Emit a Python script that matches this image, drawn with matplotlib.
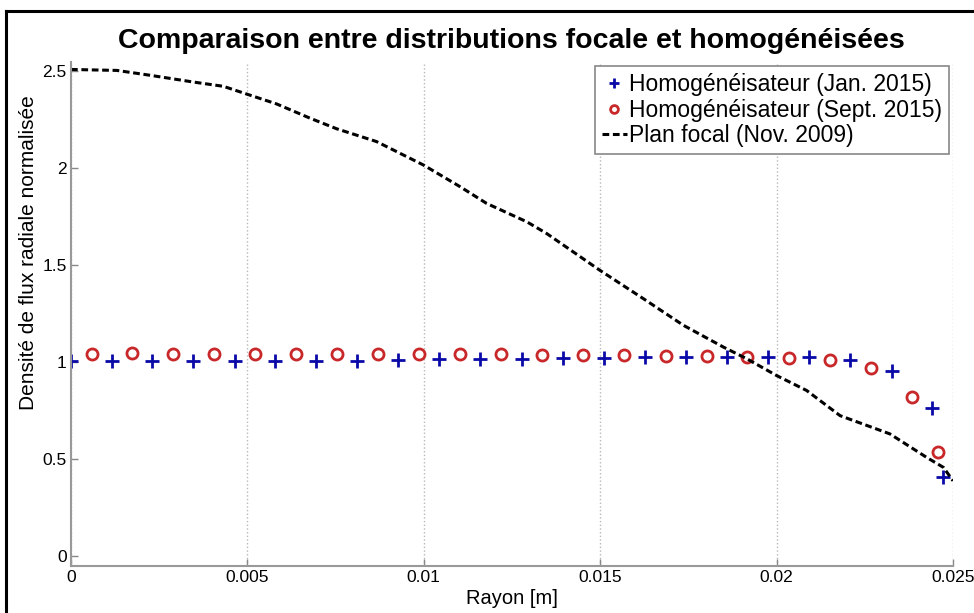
import matplotlib
matplotlib.use("Agg")
import matplotlib.pyplot as plt
from matplotlib.lines import Line2D

plt.rcParams['font.family'] = ['Liberation Sans', 'DejaVu Sans']

# Homogeneisateur (Jan. 2015)
jan_r = [0.0, 0.00116, 0.00230, 0.00346, 0.00465, 0.00578, 0.00694, 0.00811,
         0.00927, 0.01043, 0.01159, 0.01278, 0.01395, 0.01511, 0.01627, 0.01743,
         0.01859, 0.01975, 0.02092, 0.02208, 0.02327, 0.02440, 0.02472]
jan_flux = [1.005, 1.005, 1.008, 1.008, 1.005, 1.005, 1.005, 1.008,
            1.010, 1.015, 1.015, 1.018, 1.020, 1.022, 1.025, 1.026,
            1.026, 1.027, 1.025, 1.012, 0.953, 0.762, 0.410]

# Homogeneisateur (Sept. 2015)
sept_r = [0.00060, 0.00173, 0.00289, 0.00405, 0.00522, 0.00638, 0.00754, 0.00870,
          0.00986, 0.01103, 0.01219, 0.01335, 0.01451, 0.01567, 0.01686, 0.01803,
          0.01916, 0.02035, 0.02151, 0.02268, 0.02384, 0.02457]
sept_flux = [1.040, 1.045, 1.040, 1.040, 1.040, 1.040, 1.040, 1.040,
             1.040, 1.040, 1.040, 1.035, 1.035, 1.035, 1.033, 1.030,
             1.027, 1.022, 1.013, 0.970, 0.820, 0.535]

# Plan focal (Nov. 2009)
focal_r = [0.0, 0.0013, 0.00224, 0.00347, 0.00432, 0.00498, 0.00583, 0.00677,
           0.00753, 0.00866, 0.00999, 0.01103, 0.01178, 0.01292, 0.01348, 0.01499,
           0.01622, 0.01736, 0.01849, 0.01915, 0.02000, 0.02085, 0.02180, 0.02321,
           0.02425, 0.02473, 0.0250]
focal_flux = [2.51, 2.505, 2.48, 2.445, 2.423, 2.383, 2.332, 2.259,
              2.204, 2.138, 2.017, 1.905, 1.819, 1.724, 1.664, 1.474,
              1.328, 1.190, 1.078, 1.018, 0.931, 0.854, 0.724, 0.630,
              0.509, 0.457, 0.388]

x_ticks = [0, 0.005, 0.01, 0.015, 0.02, 0.025]
x_labels = ['0', '0.005', '0.01', '0.015', '0.02', '0.025']
y_ticks = [0, 0.5, 1, 1.5, 2, 2.5]
y_labels = ['0', '0.5', '1', '1.5', '2', '2.5']

W, H = 974, 613
fig = plt.figure(figsize=(W / 100, H / 100), dpi=100)
ax = fig.add_axes([71 / W, 1 - 565.7 / H, 882 / W, 504 / H])

ax.plot(jan_r, jan_flux, linestyle='none', marker='+', color='#0a0aa8',
        markersize=10, markeredgewidth=2, label='Homogénéisateur (Jan. 2015)')
ax.plot(sept_r, sept_flux, linestyle='none', marker='o', color='#c8282a',
        markerfacecolor='none', markersize=8, markeredgewidth=2,
        label='Homogénéisateur (Sept. 2015)')
ax.plot(focal_r, focal_flux, color='black', linewidth=2.2,
        linestyle=(0, (2.2, 1.2)), label='Plan focal (Nov. 2009)')

ax.set_xlim(0, 0.025)
ax.set_ylim(-0.05, 2.55)
ax.set_xticks(x_ticks)
ax.set_xticklabels(x_labels)
ax.set_yticks(y_ticks)
ax.set_yticklabels(y_labels)
ax.tick_params(direction='in', length=5, width=1, color='#888888',
               labelsize=12.5, pad=3)

ax.xaxis.grid(True, linestyle=':', color='#b8b8b8', linewidth=1)
ax.yaxis.grid(False)
for s in ['top', 'right']:
    ax.spines[s].set_visible(False)
for s in ['left', 'bottom']:
    ax.spines[s].set_color('#999999')
    ax.spines[s].set_linewidth(1.5)

ax.set_xlabel('Rayon [m]', fontsize=14.5, labelpad=3)
ax.set_ylabel('Densité de flux radiale normalisée', fontsize=15)
ax.yaxis.set_label_coords(-0.037, 0.622)

leg = ax.legend(loc='upper right', bbox_to_anchor=(0.9955, 0.9915),
                fontsize=16.5, frameon=True, fancybox=False, framealpha=1,
                edgecolor='#888888', borderpad=0.3, labelspacing=0.12,
                handlelength=1.1, handletextpad=0.1, borderaxespad=0,
                markerscale=0.7)
leg.get_frame().set_linewidth(1.2)

fig.text(511 / W, 1 - 48 / H, 'Comparaison entre distributions focale et homogénéisées',
         ha='center', va='baseline', fontsize=20.5, fontweight='bold')

# black frame of the original export
fig.add_artist(Line2D([6 / W, 6 / W], [0, 1 - 11 / H], color='black', linewidth=2.2,
                      transform=fig.transFigure))
fig.add_artist(Line2D([6 / W, 1], [1 - 11 / H, 1 - 11 / H], color='black', linewidth=2.2,
                      transform=fig.transFigure))

fig.savefig('out.png', dpi=100)
